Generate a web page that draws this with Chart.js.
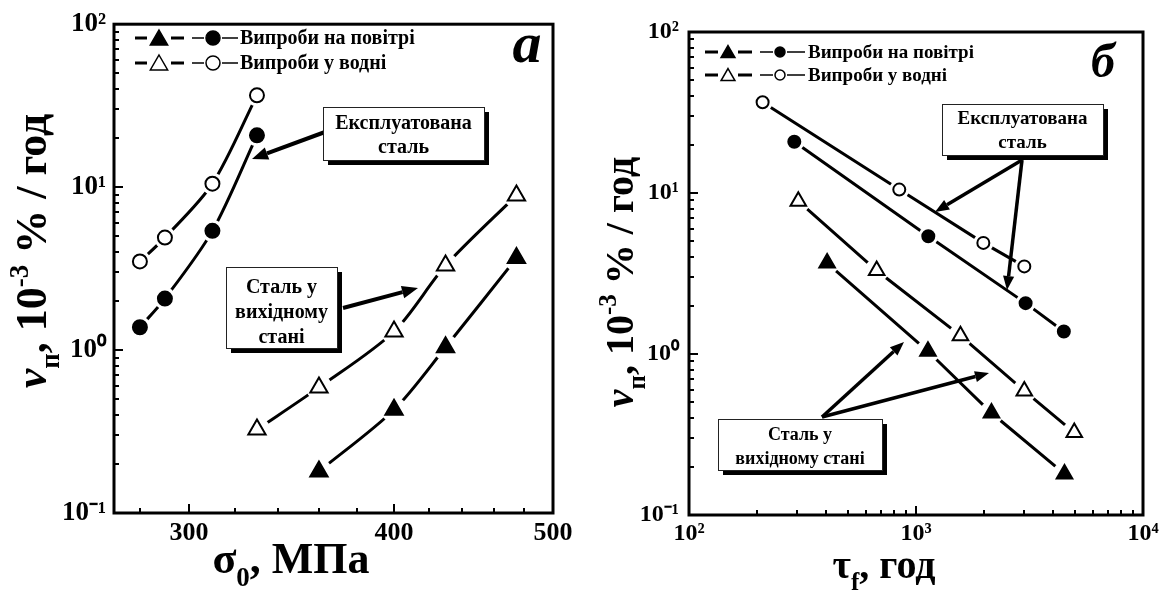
<!DOCTYPE html>
<html>
<head>
<meta charset="utf-8">
<script src="https://cdn.jsdelivr.net/npm/chart.js@4.4.0/dist/chart.umd.min.js"></script>
<style>
  body { margin: 0; background: #fff; }
  #wrap { position: relative; width: 1165px; height: 595px; }
  canvas { position: absolute; top: 0; }
</style>
</head>
<body>
<div id="wrap">
  <canvas id="left" width="580" height="595" style="left:0"></canvas>
  <canvas id="right" width="585" height="595" style="left:580px"></canvas>
</div>
<script>
// creep rate, 10^-3 %/h (same tests on both panels)
const rateAirExpl = [1.38, 2.07, 5.39, 20.8];
const rateWaterExpl = [3.5, 4.9, 10.5, 36.6];
const rateAirNew = [0.18, 0.43, 1.04, 3.67];
const rateWaterNew = [0.325, 0.59, 1.3, 3.3, 8.9];

// stress, MPa (panel а)
const stressExpl = [280, 290, 310, 330];
const stressAirNew = [360, 400, 430, 475];
const stressWaterNew = [330, 360, 400, 430, 475];

// time to failure, h (panel б), same order as the rates
const timeAirExpl = [4480, 3040, 1133, 291];
const timeWaterExpl = [3000, 1980, 844, 211];
const timeAirNew = [4510, 2150, 1129, 406];
const timeWaterNew = [4980, 3000, 1570, 671, 303];

// ticks
const stressTicks = [280, 300, 320, 340, 360, 380, 400, 420, 440, 460, 480, 500];
const stressLabels = { '300': '300', '400': '400', '500': '500' };
const rateLabels = { '0.1': '10⁻¹', '1': '10⁰', '10': '10¹', '100': '10²' };
const timeLabels = { '100': '10²', '1000': '10³', '10000': '10⁴' };

const legendAir = 'Випроби на повітрі';
const legendWater = 'Випроби у водні';

function logTicks(from, to) {
  const out = [];
  for (let e = from; e < to; e++) {
    for (let m = 1; m < 10; m++) out.push(+(m * Math.pow(10, e)).toPrecision(3));
  }
  out.push(Math.pow(10, to));
  return out;
}
const rateTicks = logTicks(-1, 2);
const timeTicks = logTicks(2, 4);

const FONT = '"Liberation Serif", "Times New Roman", serif';

function pts(xs, ys) {
  return xs.map((x, i) => ({ x: x, y: ys[i] }));
}

function drawMarker(ctx, style, x, y, r, filled, bw) {
  ctx.beginPath();
  if (style === 'circle') {
    ctx.arc(x, y, r, 0, Math.PI * 2);
  } else {
    ctx.moveTo(x, y - r);
    ctx.lineTo(x + 0.866 * r, y + 0.5 * r);
    ctx.lineTo(x - 0.866 * r, y + 0.5 * r);
    ctx.closePath();
  }
  ctx.fillStyle = filled ? '#000' : '#fff';
  ctx.fill();
  ctx.lineWidth = bw;
  ctx.strokeStyle = '#000';
  ctx.stroke();
}

function richText(ctx, parts, x, y, size, angle) {
  ctx.save();
  ctx.translate(x, y);
  ctx.rotate(angle || 0);
  const fontOf = (k) => (k === 'it' ? 'italic ' : '') + 'bold ' +
    Math.round(k === 'sub' || k === 'sup' ? size * 0.62 : size) + 'px ' + FONT;
  let w = 0;
  parts.forEach(([t, k]) => { ctx.font = fontOf(k); w += ctx.measureText(t).width; });
  let cx = -w / 2;
  ctx.textAlign = 'left';
  ctx.textBaseline = 'alphabetic';
  ctx.fillStyle = '#000';
  parts.forEach(([t, k]) => {
    ctx.font = fontOf(k);
    const dy = k === 'sub' ? size * 0.3 : (k === 'sup' ? -size * 0.42 : 0);
    ctx.fillText(t, cx, dy);
    cx += ctx.measureText(t).width;
  });
  ctx.restore();
}

function drawArrow(ctx, x1, y1, x2, y2, lw, head) {
  const ang = Math.atan2(y2 - y1, x2 - x1);
  const bx = x2 - Math.cos(ang) * head;
  const by = y2 - Math.sin(ang) * head;
  ctx.save();
  ctx.strokeStyle = '#000';
  ctx.fillStyle = '#000';
  ctx.lineWidth = lw;
  ctx.beginPath();
  ctx.moveTo(x1, y1);
  ctx.lineTo(bx, by);
  ctx.stroke();
  const hw = head * 0.4;
  ctx.beginPath();
  ctx.moveTo(x2, y2);
  ctx.lineTo(bx + Math.sin(ang) * hw, by - Math.cos(ang) * hw);
  ctx.lineTo(bx - Math.sin(ang) * hw, by + Math.cos(ang) * hw);
  ctx.closePath();
  ctx.fill();
  ctx.restore();
}

function drawBox(ctx, b) {
  ctx.save();
  ctx.fillStyle = '#000';
  ctx.fillRect(b.x + 5, b.y + 5, b.w, b.h);
  ctx.fillStyle = '#fff';
  ctx.fillRect(b.x, b.y, b.w, b.h);
  ctx.strokeStyle = '#222';
  ctx.lineWidth = 1;
  ctx.strokeRect(b.x + 0.5, b.y + 0.5, b.w, b.h);
  ctx.fillStyle = '#000';
  ctx.font = 'bold ' + b.size + 'px ' + FONT;
  ctx.textAlign = 'center';
  ctx.textBaseline = 'alphabetic';
  b.lines.forEach((t, i) => ctx.fillText(t, b.x + b.w / 2, b.ys[i]));
  ctx.restore();
}

// white gap around the markers, like the original
const halo = {
  id: 'halo',
  beforeDatasetDraw(chart, args) {
    const ds = chart.data.datasets[args.index];
    if (!ds.halo) return;
    const ctx = chart.ctx;
    ctx.save();
    ctx.fillStyle = '#fff';
    args.meta.data.forEach((el) => {
      ctx.beginPath();
      ctx.arc(el.x, el.y, ds.halo, 0, Math.PI * 2);
      ctx.fill();
    });
    ctx.restore();
  }
};

const decor = {
  id: 'decor',
  afterDraw(chart, args, o) {
    const ctx = chart.ctx;
    const a = chart.chartArea;
    const sx = chart.scales.x;
    const sy = chart.scales.y;
    ctx.save();
    ctx.strokeStyle = '#000';
    ctx.lineWidth = 2;
    sx.ticks.forEach((t) => {
      const p = Math.round(sx.getPixelForValue(t.value));
      const len = t.label ? 9 : 5;
      ctx.beginPath();
      ctx.moveTo(p, a.bottom);
      ctx.lineTo(p, a.bottom - len);
      ctx.stroke();
    });
    sy.ticks.forEach((t) => {
      const p = Math.round(sy.getPixelForValue(t.value));
      const len = t.label ? 9 : 5;
      ctx.beginPath();
      ctx.moveTo(a.left, p);
      ctx.lineTo(a.left + len, p);
      ctx.stroke();
    });
    ctx.lineWidth = 3;
    ctx.strokeRect(a.left, a.top, a.right - a.left, a.bottom - a.top);

    // legend
    const lg = o.legend;
    lg.rows.forEach((row) => {
      ctx.lineWidth = 3;
      [[lg.seg1, 'triangle', lg.tri], [lg.seg2, 'circle', lg.circ]].forEach(([seg, st, r]) => {
        ctx.beginPath();
        ctx.moveTo(seg[0], row.y);
        ctx.lineTo(seg[1] - r - 2, row.y);
        ctx.moveTo(seg[1] + r + 2, row.y);
        ctx.lineTo(seg[2], row.y);
        ctx.stroke();
        drawMarker(ctx, st, seg[1], row.y + (st === 'triangle' ? r * 0.2 : 0), r, row.filled, 1.5);
      });
      ctx.fillStyle = '#000';
      ctx.font = 'bold ' + lg.font + 'px ' + FONT;
      ctx.textAlign = 'left';
      ctx.textBaseline = 'middle';
      ctx.fillText(row.text, lg.textX, row.y + 1);
    });

    // panel letter
    ctx.fillStyle = '#000';
    ctx.font = 'italic bold ' + o.letter.size + 'px ' + FONT;
    ctx.textAlign = 'center';
    ctx.textBaseline = 'alphabetic';
    ctx.fillText(o.letter.text, o.letter.x, o.letter.y);

    o.arrows.forEach((ar) => drawArrow(ctx, ar[0], ar[1], ar[2], ar[3], o.arrowWidth, o.arrowHead));
    o.boxes.forEach((b) => drawBox(ctx, b));

    richText(ctx, o.xTitle.parts, o.xTitle.x, o.xTitle.y, o.xTitle.size, 0);
    richText(ctx, o.yTitle.parts, o.yTitle.x, o.yTitle.y, o.yTitle.size, -Math.PI / 2);
    ctx.restore();
  }
};

function seriesSets(list, tension) {
  const lines = [];
  const marks = [];
  list.forEach((s) => {
    lines.push({
      data: s.data, showLine: true, pointRadius: 0, borderColor: '#000',
      borderWidth: 3, tension: tension, fill: false, order: 2
    });
    marks.push({
      data: s.data, showLine: false, pointStyle: s.style, pointRadius: s.r,
      pointBackgroundColor: s.filled ? '#000' : '#fff', pointBorderColor: '#000',
      pointBorderWidth: 2, halo: s.r + (s.style === 'circle' ? 4 : 3), order: 1
    });
  });
  return lines.concat(marks);
}

function axis(type, min, max, tickList, labels, fontSize, pad, fit) {
  return {
    type: type, min: min, max: max,
    afterBuildTicks: (s) => { s.ticks = tickList.map((v) => ({ value: v })); },
    afterFit: fit,
    grid: { display: false, drawTicks: false },
    border: { display: false },
    ticks: {
      autoSkip: false, maxRotation: 0, padding: pad, color: '#000',
      font: { family: FONT, weight: 'bold', size: fontSize },
      callback: (v) => labels[String(v)] || ''
    }
  };
}

const yTitleParts = [['ν', 'it'], ['п', 'sub'], [', 10', ''], ['-3', 'sup'], [' % / год', '']];

new Chart(document.getElementById('left'), {
  type: 'scatter',
  data: {
    datasets: seriesSets([
      { data: pts(stressExpl, rateWaterExpl), style: 'circle', r: 7, filled: false },
      { data: pts(stressExpl, rateAirExpl), style: 'circle', r: 7, filled: true },
      { data: pts(stressWaterNew, rateWaterNew), style: 'triangle', r: 10, filled: false },
      { data: pts(stressAirNew, rateAirNew), style: 'triangle', r: 10, filled: true }
    ], 0.3)
  },
  options: {
    responsive: false, animation: false, devicePixelRatio: 1,
    layout: { padding: { top: 19, right: 27, left: 0, bottom: 0 } },
    scales: {
      x: axis('logarithmic', 270, 500, stressTicks, stressLabels, 26, 5, (s) => { s.height = 82; }),
      y: axis('logarithmic', 0.1, 100, rateTicks, rateLabels, 27, 8, (s) => { s.width = 114; })
    },
    plugins: {
      legend: { display: false },
      tooltip: { enabled: false },
      decor: {
        legend: {
          rows: [{ y: 38, filled: true, text: legendAir }, { y: 63, filled: false, text: legendWater }],
          seg1: [135, 159, 184], seg2: [192, 213, 238], tri: 10, circ: 7, textX: 240, font: 20
        },
        letter: { text: 'а', x: 527, y: 62, size: 58 },
        arrows: [[325, 132, 252, 159], [343, 308, 418, 288]],
        arrowWidth: 4, arrowHead: 16,
        boxes: [
          { x: 323, y: 107, w: 161, h: 53, lines: ['Експлуатована', 'сталь'], ys: [129, 153], size: 20 },
          { x: 226, y: 267, w: 111, h: 81, lines: ['Сталь у', 'вихідному', 'стані'], ys: [293, 318, 343], size: 20 }
        ],
        xTitle: { parts: [['σ', ''], ['0', 'sub'], [', МПа', '']], x: 291, y: 573, size: 44 },
        yTitle: { parts: yTitleParts, x: 46, y: 251, size: 44 }
      }
    }
  },
  plugins: [halo, decor]
});

new Chart(document.getElementById('right'), {
  type: 'scatter',
  data: {
    datasets: seriesSets([
      { data: pts(timeWaterExpl, rateWaterExpl), style: 'circle', r: 6, filled: false },
      { data: pts(timeAirExpl, rateAirExpl), style: 'circle', r: 6, filled: true },
      { data: pts(timeWaterNew, rateWaterNew), style: 'triangle', r: 9, filled: false },
      { data: pts(timeAirNew, rateAirNew), style: 'triangle', r: 9, filled: true }
    ], 0)
  },
  options: {
    responsive: false, animation: false, devicePixelRatio: 1,
    layout: { padding: { top: 32, right: 22, left: 0, bottom: 0 } },
    scales: {
      x: axis('logarithmic', 100, 10000, timeTicks, timeLabels, 24, 4, (s) => { s.height = 80; }),
      y: axis('logarithmic', 0.1, 100, rateTicks, rateLabels, 24, 10, (s) => { s.width = 109; })
    },
    plugins: {
      legend: { display: false },
      tooltip: { enabled: false },
      decor: {
        legend: {
          rows: [{ y: 52, filled: true, text: legendAir }, { y: 75, filled: false, text: legendWater }],
          seg1: [125, 148, 172], seg2: [180, 200, 225], tri: 8, circ: 5, textX: 228, font: 19
        },
        letter: { text: 'б', x: 523, y: 77, size: 48 },
        arrows: [[442, 160, 355, 212], [442, 160, 427, 290], [242, 417, 324, 342], [242, 417, 409, 373]],
        arrowWidth: 3.5, arrowHead: 14,
        boxes: [
          { x: 362, y: 104, w: 161, h: 51, lines: ['Експлуатована', 'сталь'], ys: [124, 148], size: 19 },
          { x: 138, y: 419, w: 164, h: 51, lines: ['Сталь у', 'вихідному стані'], ys: [440, 464], size: 18 }
        ],
        xTitle: { parts: [['τ', ''], ['f', 'sub'], [', год', '']], x: 884 - 580, y: 578, size: 40 },
        yTitle: { parts: yTitleParts, x: 53, y: 282, size: 40 }
      }
    }
  },
  plugins: [halo, decor]
});
</script>
</body>
</html>
